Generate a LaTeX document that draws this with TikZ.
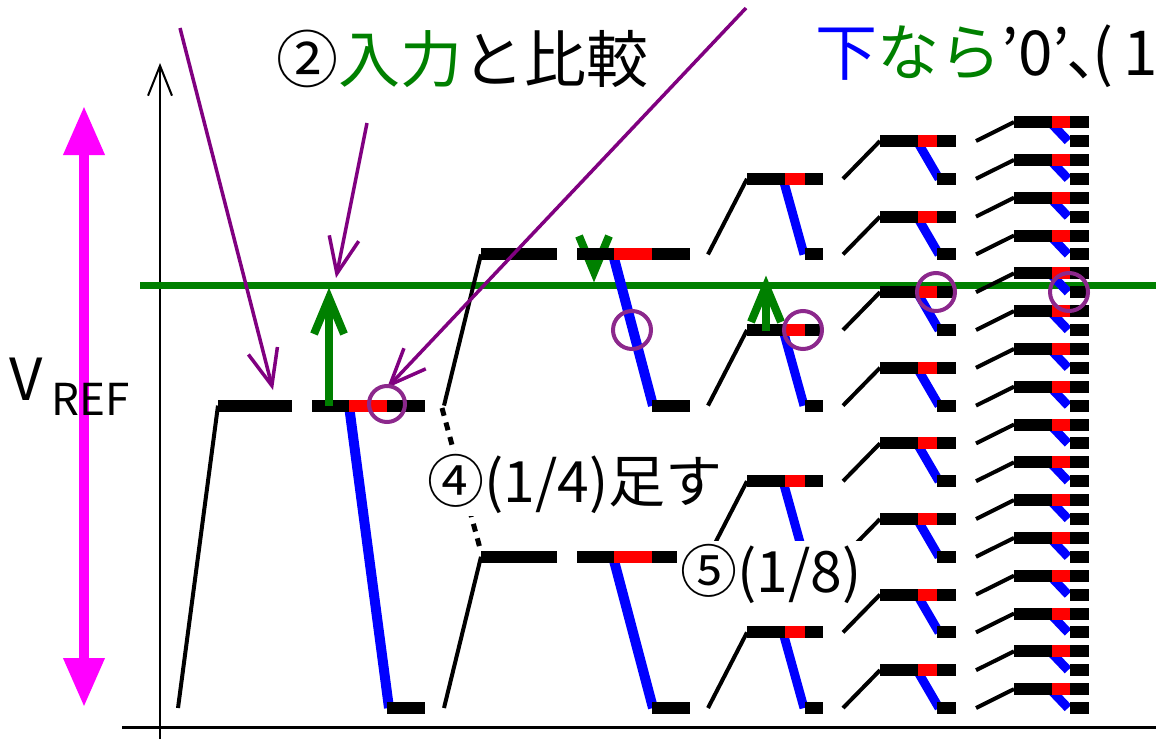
\documentclass[tikz,border=0pt]{standalone}
\usepackage{fontspec}
\setmainfont{Noto Sans CJK JP}
\usetikzlibrary{arrows.meta}
\definecolor{pgreen}{RGB}{0,128,0}
\definecolor{pblue}{RGB}{0,0,255}
\definecolor{pred}{RGB}{255,0,0}
\definecolor{ppurple}{RGB}{128,0,128}
\definecolor{pcircle}{RGB}{140,40,140}
\definecolor{pmag}{RGB}{255,0,255}
\tikzset{
  bar/.style={line width=12pt, black},
  redseg/.style={line width=12pt, pred},
  dropA/.style={line width=10pt, pblue},
  dropB/.style={line width=9pt, pblue},
  riseline/.style={line width=4pt, black},
  gshaft/.style={line width=8pt, pgreen},
  ghead/.style={line width=8pt, pgreen, line join=miter, miter limit=10},
  parrow/.style={line width=3.5pt, ppurple, -{Straight Barb[length=36pt,width=30pt]}},
  pcirc/.style={line width=4pt, pcircle},
  lbl/.style={inner sep=0pt},
  boxlbl/.style={inner sep=3pt, fill=white},
}
\begin{document}
\begin{tikzpicture}[x=1pt,y=-1pt]
\useasboundingbox (0,0) rectangle (1156,739);
% axes
\draw[line width=2pt, -{Straight Barb[length=30pt,width=24pt]}] (160,739) -- (160,63);
\draw[line width=3pt] (122,727) -- (1156,727);
% magenta range arrow
\draw[line width=10pt, pmag, {Triangle[length=49pt,width=39pt]}-{Triangle[length=49pt,width=39pt]}] (84,106) -- (84,707);
% input level
\draw[line width=7pt, pgreen] (140,285) -- (1156,285);
% green down arrow (behind bar)
\draw[gshaft] (594,250) -- (594,266);
\draw[ghead] (579,236) -- (594,272) -- (609,236);
% level 0
\pgfmathsetmacro\yh{708-18.9*16}
\draw[riseline] (178,708) -- (218,\yh);
\draw[dropA] (349,\yh) -- (389,708);
\draw[bar] (218,\yh) -- (292,\yh);
\draw[bar] (312,\yh) -- (425,\yh);
\draw[redseg] (349,\yh) -- (387,\yh);
\draw[bar] (387,708) -- (425,708);
% dotted
\draw[line width=5pt, dash pattern=on 8pt off 7pt] (442,408) -- (481,552);
% level 1
\foreach \k in {24,8}{
  \pgfmathsetmacro\ya{708-18.9*\k}
  \pgfmathsetmacro\yb{708-18.9*(\k-8)}
  \draw[riseline] (444,\yb) -- (481,\ya);
  \draw[dropA] (613,\ya) -- (653,\yb);
  \draw[bar] (481,\ya) -- (557,\ya);
  \draw[bar] (577,\ya) -- (690,\ya);
  \draw[redseg] (614,\ya) -- (652,\ya);
  \draw[bar] (652,\yb) -- (690,\yb);
}
% level 2
\foreach \k in {28,20,12,4}{
  \pgfmathsetmacro\ya{708-18.9*\k}
  \pgfmathsetmacro\yb{708-18.9*(\k-4)}
  \draw[riseline] (708,\yb) -- (747,\ya);
  \draw[dropB] (783,\ya) -- (804,\yb);
  \draw[bar] (747,\ya) -- (823,\ya);
  \draw[redseg] (785,\ya) -- (805,\ya);
  \draw[bar] (805,\yb) -- (823,\yb);
}
% level 3
\foreach \k in {30,26,22,18,14,10,6,2}{
  \pgfmathsetmacro\ya{708-18.9*\k}
  \pgfmathsetmacro\yb{708-18.9*(\k-2)}
  \draw[riseline] (843,\yb) -- (880,\ya);
  \draw[dropB] (917,\ya) -- (939,\yb);
  \draw[bar] (880,\ya) -- (956,\ya);
  \draw[redseg] (918,\ya) -- (937,\ya);
  \draw[bar] (937,\yb) -- (956,\yb);
}
% level 4
\foreach \k in {31,29,...,1}{
  \pgfmathsetmacro\ya{708-18.9*\k}
  \pgfmathsetmacro\yb{708-18.9*(\k-1)}
  \draw[riseline] (976,\yb) -- (1014,\ya);
  \draw[dropB] (1050,\ya) -- (1068,\yb);
  \draw[bar] (1014,\ya) -- (1089,\ya);
  \draw[redseg] (1052,\ya) -- (1070,\ya);
  \draw[bar] (1070,\yb) -- (1089,\yb);
}
% green up arrows
\draw[gshaft] (329,406) -- (329,302);
\draw[ghead] (314,334) -- (329,298) -- (344,334);
\draw[gshaft] (766,331) -- (766,292);
\draw[ghead] (751,322) -- (766,286) -- (781,322);
% labels
\node[lbl, anchor=base west, font=\fontsize{58pt}{58pt}\selectfont] (vv) at (9,400) {V};
\node[lbl, anchor=base west, font=\fontsize{44pt}{44pt}\selectfont] (vref) at (51,415) {REF};
\node[lbl, anchor=base west, font=\fontsize{62pt}{62pt}\selectfont] (cmp) at (276,82) {②\textcolor{pgreen}{入力}と比較};
\node[lbl, anchor=base west, font=\fontsize{62pt}{62pt}\selectfont] (low) at (815,75) {\textcolor{pblue}{下}\textcolor{pgreen}{なら}’0’\hspace{-4pt}、\hspace{-36pt}(\hspace{10pt}1/};
\node[boxlbl, anchor=base west, font=\fontsize{57pt}{57pt}\selectfont] (add4) at (424,502) {④(1/4)足す};
\node[boxlbl, anchor=base west, font=\fontsize{57pt}{57pt}\selectfont] (add8) at (677,592) {⑤(1/8)};
% purple annotations
\draw[parrow] (180,28) -- (273,390);
\draw[parrow] (367,123) -- (336,278);
\draw[parrow] (746,8) -- (387,388);
\draw[pcirc] (387,404) circle[radius=18pt];
\draw[pcirc] (632,330) circle[radius=19pt];
\draw[pcirc] (803,330) circle[radius=19pt];
\draw[pcirc] (936,292) circle[radius=19pt];
\draw[pcirc] (1069,292) circle[radius=19pt];
\end{tikzpicture}
\end{document}
